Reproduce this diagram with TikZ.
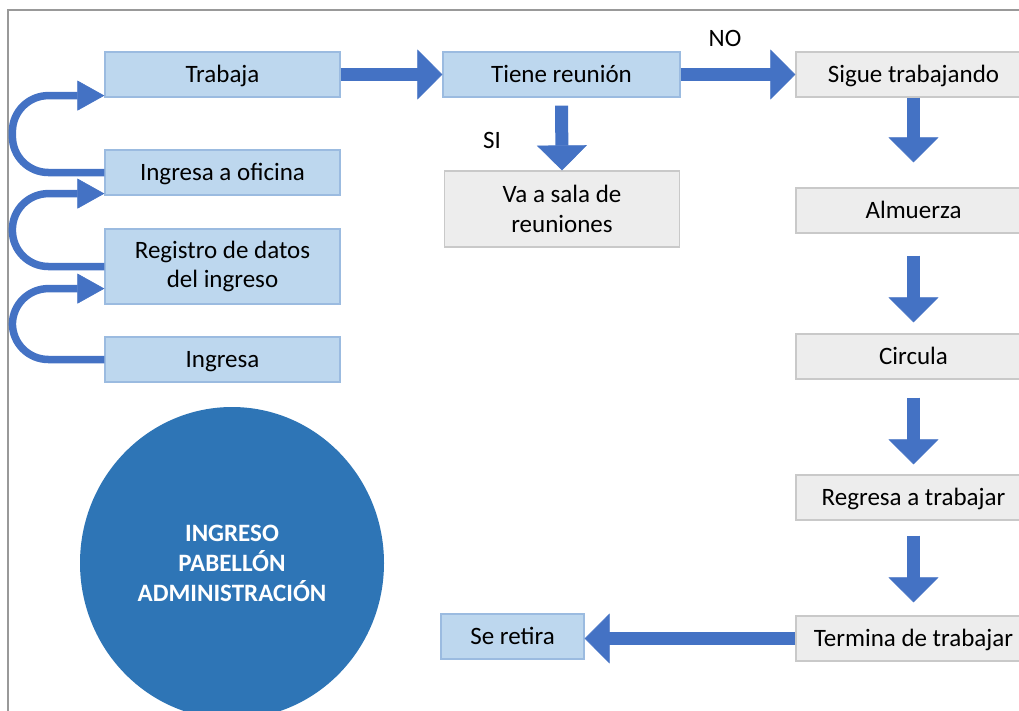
\documentclass[tikz,border=0pt]{standalone}
\usepackage{fontspec}
\setmainfont{Carlito}
\usetikzlibrary{arrows.meta,shapes.geometric}

\definecolor{cajaazul}{HTML}{BDD7EE}
\definecolor{bordeazul}{HTML}{9BBBE0}
\definecolor{cajagris}{HTML}{EDEDED}
\definecolor{bordegris}{HTML}{C9C9C9}
\definecolor{flechaazul}{HTML}{4472C4}
\definecolor{circuloazul}{HTML}{2E75B6}

\tikzset{
  azul/.style={draw=bordeazul, fill=cajaazul, line width=1.2pt,
    minimum width=235pt, minimum height=45pt, align=center, inner sep=2pt},
  gris/.style={azul, draw=bordegris, fill=cajagris},
  linea/.style={text height=21pt, text depth=5pt},
  flecha/.style={draw=flechaazul, line width=13pt,
    -{Triangle[length=25pt,width=50pt,line width=0.6pt]}},
  vuelta/.style={draw=flechaazul, line width=7.5pt, rounded corners=36pt,
    -{Triangle[length=27pt,width=30pt,line width=0.6pt]}},
}

\begin{document}
\begin{tikzpicture}[x=1pt,y=-1pt,font=\fontsize{25}{29.5}\selectfont]
\useasboundingbox (0,0) rectangle (1019,710);
\draw[line width=1.5pt,black!40] (8,712) -- (8,10) -- (1021,10);

% columna izquierda
\node[azul,linea] (trabaja) at (222.5,74.5) {Trabaja};
\node[azul,linea] (oficina) at (222.5,172.5) {Ingresa a oficina};
\node[azul,minimum height=75pt] (registro) at (222.5,266.5) {Registro de datos\\del ingreso};
\node[azul,linea] (ingresa) at (222.5,359.5) {Ingresa};

% columna central
\node[azul,linea,minimum width=237pt] (reunion) at (561.5,74.5) {Tiene reunión};
\node[gris,minimum height=76pt] (sala) at (562,209) {Va a sala de\\reuniones};
\node[azul,linea,minimum width=143pt] (retira) at (512.5,636.5) {Se retira};

% columna derecha
\node[gris,linea] (sigue) at (913.5,74.5) {Sigue trabajando};
\node[gris,linea] (almuerza) at (913.5,210.5) {Almuerza};
\node[gris,linea] (circula) at (913.5,356.5) {Circula};
\node[gris,linea] (regresa) at (913.5,497.5) {Regresa a trabajar};
\node[gris,linea] (termina) at (913.5,638.5) {Termina de trabajar};

\node[linea] (no) at (725,38) {NO};
\node[linea] (si) at (492,140) {SI};

\node[ellipse,fill=circuloazul,minimum width=304pt,minimum height=312pt,
  text=white,font=\fontsize{25}{30}\selectfont\bfseries,align=center]
  (pabellon) at (232,563) {INGRESO\\PABELLÓN\\ADMINISTRACIÓN};

% flechas curvas
\draw[vuelta] (ingresa.west) -- ++(-92,0) |- ([yshift=16pt]registro.south west);
\draw[vuelta] (registro.west) -- ++(-92,0) |- ([yshift=2pt]oficina.south west);
\draw[vuelta] (oficina.west) -- ++(-92,0) |- ([yshift=2pt]trabaja.south west);

% flechas rectas
\draw[flecha] (trabaja.east) -- (reunion.west);
\draw[flecha] (reunion.east) -- (sigue.west);
\draw[flecha,shorten <=8pt] (reunion.south) -- (sala.north);
\draw[flecha,shorten >=25pt] (sigue.south) -- (almuerza.north);
\draw[flecha,shorten <=22pt,shorten >=11pt] (almuerza.south) -- (circula.north);
\draw[flecha,shorten <=18pt,shorten >=10pt] (circula.south) -- (regresa.north);
\draw[flecha,shorten <=15pt,shorten >=13pt] (regresa.south) -- (termina.north);
\draw[flecha] (termina.west) -- (termina.west -| retira.east);
\end{tikzpicture}
\end{document}
